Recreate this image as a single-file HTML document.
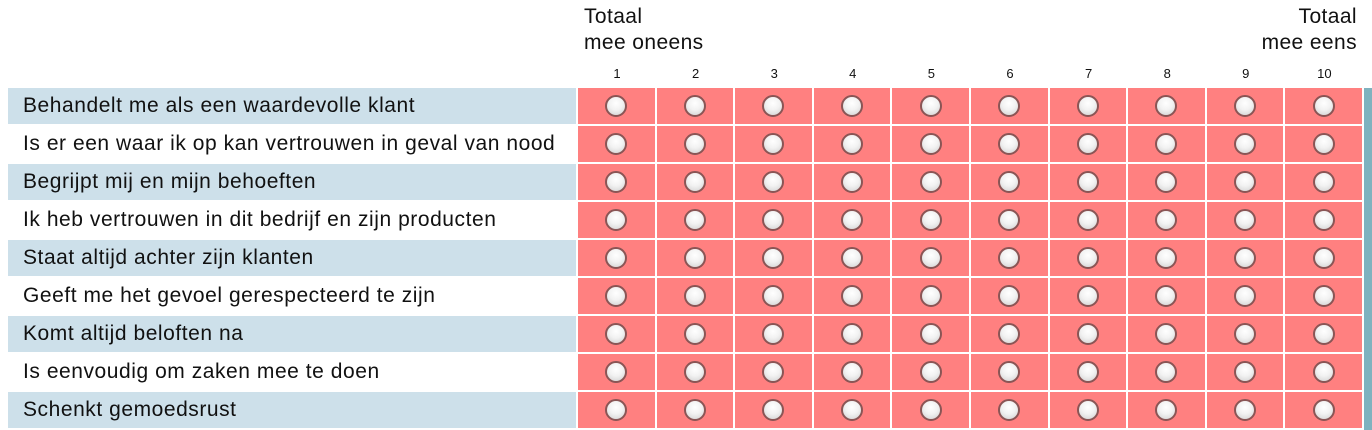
<!DOCTYPE html>
<html><head><meta charset="utf-8"><style>
body{margin:0;width:1372px;height:430px;overflow:hidden;background:#fff;font-family:"Liberation Sans",Arial,sans-serif;position:relative}
.h{position:absolute;font-size:21px;letter-spacing:0.4px;line-height:26px;color:#111}
.n{position:absolute;top:66px;width:78px;text-align:center;font-size:13px;color:#111}
.lab{position:absolute;left:8px;width:568px;height:36px;line-height:36px;font-size:21px;letter-spacing:0.55px;color:#111;padding-left:15px;box-sizing:border-box;white-space:nowrap}
.c{position:absolute;width:76.6px;height:36px;background:#ff8080}
.r{position:absolute;left:50%;top:50%;width:22px;height:22px;margin:-11px 0 0 -11px;border-radius:50%;box-sizing:border-box;border:2px solid #8a5555;background:radial-gradient(circle at 50% 35%,#fff 0%,#f2f2f2 45%,#cfcfcf 100%)}
.t{position:absolute;left:1364px;top:88px;width:8px;height:342px;background:#7fb2bf}
</style></head><body>
<div class="h" style="left:584px;top:4px">Totaal<br>mee oneens</div>
<div class="h" style="left:1200px;top:4px;text-align:right;width:157px">Totaal<br>mee eens</div>
<div id="g"></div>
<div class="t"></div>
<script>
var labels=["Behandelt me als een waardevolle klant","Is er een waar ik op kan vertrouwen in geval van nood","Begrijpt mij en mijn behoeften","Ik heb vertrouwen in dit bedrijf en zijn producten","Staat altijd achter zijn klanten","Geeft me het gevoel gerespecteerd te zijn","Komt altijd beloften na","Is eenvoudig om zaken mee te doen","Schenkt gemoedsrust"];
var h="";
for(var j=0;j<10;j++){h+='<div class="n" style="left:'+(578+j*78.6)+'px">'+(j+1)+'</div>';}
for(var i=0;i<9;i++){var y=88+i*38;
h+='<div class="lab" style="top:'+y+'px;background:'+(i%2==0?'#cde0ea':'#fff')+'">'+labels[i]+'</div>';
for(var j=0;j<10;j++){h+='<div class="c" style="left:'+(578+j*78.6)+'px;top:'+y+'px"><div class="r"></div></div>';}}
document.getElementById("g").innerHTML=h;
</script>
</body></html>
